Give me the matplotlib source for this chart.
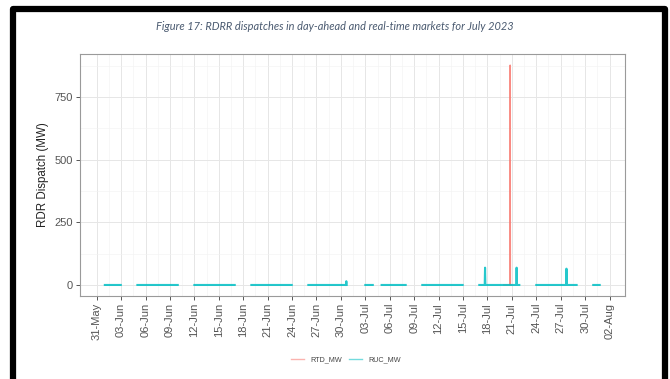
import matplotlib
matplotlib.use("Agg")
import matplotlib.pyplot as plt
import matplotlib.dates as mdates
from matplotlib.lines import Line2D
import numpy as np
import pandas as pd

# weekday blocks with a RUC dispatch record (hourly, value 0 unless listed below)
ruc_blocks = [
    ("2023-06-01 00:00", "2023-06-02 23:00"),
    ("2023-06-05 00:00", "2023-06-09 23:00"),
    ("2023-06-12 00:00", "2023-06-16 23:00"),
    ("2023-06-19 00:00", "2023-06-23 23:00"),
    ("2023-06-26 00:00", "2023-06-30 17:00"),
    ("2023-07-03 00:00", "2023-07-03 22:00"),
    ("2023-07-05 00:00", "2023-07-07 23:00"),
    ("2023-07-10 00:00", "2023-07-14 23:00"),
    ("2023-07-17 00:00", "2023-07-21 22:00"),
    ("2023-07-24 00:00", "2023-07-28 23:00"),
    ("2023-07-31 00:00", "2023-07-31 19:00"),
]
ruc_spike_times = ["2023-06-30 16:00", "2023-07-17 17:00", "2023-07-21 14:00", "2023-07-27 17:00"]
ruc_spike_mw = [15, 69, 69, 65]

rtd_blocks = [("2023-07-20 00:00", "2023-07-20 23:00")]
rtd_spike_times = ["2023-07-20 19:00"]
rtd_spike_mw = [877]


def build_series(blocks, spike_times, spike_vals):
    parts = []
    for start, end in blocks:
        idx = pd.date_range(start, end, freq="h")
        s = pd.Series(0.0, index=idx)
        for t, v in zip(spike_times, spike_vals):
            t = pd.Timestamp(t)
            if t in s.index:
                s[t] = v
        parts.append(s)
        # NaN after each block so the line breaks over the gap
        parts.append(pd.Series([np.nan], index=[idx[-1] + pd.Timedelta(hours=1)]))
    return pd.concat(parts)


rtd = build_series(rtd_blocks, rtd_spike_times, rtd_spike_mw)
ruc = build_series(ruc_blocks, ruc_spike_times, ruc_spike_mw)

RED = "#F8766D"
CYAN = "#00BFC4"

plt.rcParams["font.family"] = ["Liberation Sans", "DejaVu Sans"]

fig = plt.figure(figsize=(6.7, 3.79), dpi=100)

# black frame: left, top and right sides, open at the bottom
W, H = 670, 379
fx = np.array([13, 13, 664.5, 664.5]) / W
fy = 1 - np.array([H + 20, 9, 9, H + 20]) / H
fig.add_artist(Line2D(fx, fy, transform=fig.transFigure, color="black",
                      lw=4.5, solid_joinstyle="round"))

fig.text(0.5, 1 - 27 / H,
         "Figure 17: RDRR dispatches in day-ahead and real-time markets for July 2023",
         ha="center", va="center", fontsize=7.9, style="italic",
         family="Lato", color="#4A5A70")

ax = fig.add_axes([80 / W, 1 - 296 / H, 545 / W, 242 / H])

ax.plot(rtd.index, rtd.values, color=RED, lw=0.9, alpha=0.85, label="RTD_MW", zorder=3)
ax.plot(ruc.index, ruc.values, color=CYAN, lw=1.5, alpha=0.85, label="RUC_MW", zorder=4)

base = pd.Timestamp("2023-05-31")
ax.set_xlim(base - pd.Timedelta(days=2.05), base + pd.Timedelta(days=64.9))
ax.set_ylim(-44, 921)

major_days = pd.date_range("2023-05-31", "2023-08-02", freq="3D")
ax.set_xticks(major_days)
ax.set_xticks(major_days[:-1] + pd.Timedelta(hours=36), minor=True)
ax.xaxis.set_major_formatter(mdates.DateFormatter("%d-%b"))
ax.set_yticks([0, 250, 500, 750])
ax.set_yticks([125, 375, 625, 875], minor=True)

ax.grid(which="major", color="#E6E6E6", lw=0.7)
ax.grid(which="minor", color="#F2F2F2", lw=0.4)
ax.set_axisbelow(True)

for sp in ax.spines.values():
    sp.set_color("#9A9A9A")
    sp.set_linewidth(0.8)

ax.tick_params(which="major", length=3, width=0.7, color="#555555",
               labelsize=8, labelcolor="#555555", pad=2)
ax.tick_params(which="minor", length=0)
plt.setp(ax.get_xticklabels(), rotation=90)

ax.set_ylabel("RDR Dispatch (MW)", fontsize=8.3, color="#222222", labelpad=4)

leg = ax.legend(loc="center", bbox_to_anchor=(346 / W, 1 - 360 / H),
                bbox_transform=fig.transFigure, ncol=2, frameon=False,
                fontsize=5.2, handlelength=1.8, handletextpad=0.9,
                columnspacing=1.0, labelcolor="#444444")
for h in leg.get_lines():
    h.set_alpha(0.55)
    h.set_linewidth(1.0)

fig.savefig("out.png", dpi=100)
